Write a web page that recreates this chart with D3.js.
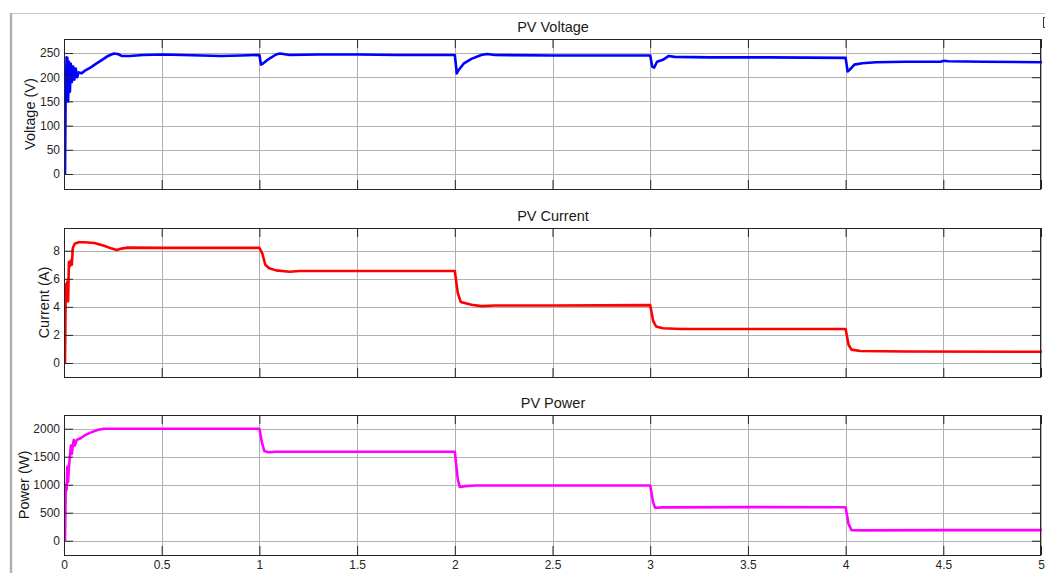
<!DOCTYPE html>
<html>
<head>
<meta charset="utf-8">
<script src="https://cdn.jsdelivr.net/npm/d3@7"></script>
<style>
  html, body { margin: 0; padding: 0; background: #fff; }
  svg { display: block; font-family: "Liberation Sans", Arial, Helvetica, sans-serif; }
</style>
</head>
<body>
<svg id="chart" width="1045" height="573"></svg>
<script>
// ---------- DATA ----------
const xTicks = [0, 0.5, 1, 1.5, 2, 2.5, 3, 3.5, 4, 4.5, 5];
const xTickLabels = ["0", "0.5", "1", "1.5", "2", "2.5", "3", "3.5", "4", "4.5", "5"];

const voltageT = [0, 0.003, 0.008, 0.012, 0.016, 0.020, 0.025, 0.030, 0.035, 0.042, 0.048, 0.055, 0.062, 0.070, 0.085, 0.100, 0.130, 0.160, 0.190, 0.220, 0.250, 0.270, 0.290, 0.330, 0.400, 0.500, 0.600, 0.700, 0.800, 0.900, 0.995,
  1.003, 1.012, 1.040, 1.080, 1.100, 1.150, 1.300, 1.500, 1.700, 1.900, 1.995,
  2.005, 2.015, 2.040, 2.080, 2.130, 2.160, 2.200, 2.500, 2.800, 2.995,
  3.005, 3.015, 3.030, 3.060, 3.090, 3.120, 3.300, 3.600, 3.995,
  4.005, 4.015, 4.040, 4.080, 4.150, 4.300, 4.480, 4.500, 4.520, 4.700, 5.000];
const voltageV = [0, 150, 241, 240, 150, 232, 170, 228, 190, 222, 195, 218, 200, 210, 208, 213, 220, 228, 236, 244, 249, 248, 244, 244, 246, 247, 246, 245, 244, 245, 246,
  226, 228, 237, 247, 249, 246, 247, 247, 246, 246, 246,
  208, 215, 228, 238, 246, 248, 246, 245, 245, 245,
  222, 220, 232, 236, 244, 242, 241, 241, 240,
  212, 215, 226, 229, 231, 232, 232, 234, 233, 232, 231];

const currentT = [0, 0.004, 0.008, 0.012, 0.016, 0.020, 0.025, 0.030, 0.035, 0.040, 0.050, 0.070, 0.100, 0.150, 0.200, 0.240, 0.265, 0.290, 0.320, 0.500, 0.700, 0.995,
  1.010, 1.025, 1.045, 1.080, 1.150, 1.200, 1.500, 1.995,
  2.010, 2.025, 2.080, 2.130, 2.200, 2.500, 2.995,
  3.010, 3.025, 3.060, 3.150, 3.500, 3.995,
  4.010, 4.025, 4.070, 4.300, 5.000];
const currentA = [0, 5.6, 4.4, 5.8, 4.4, 7.2, 6.9, 7.3, 7.0, 8.2, 8.5, 8.6, 8.6, 8.55, 8.35, 8.15, 8.05, 8.15, 8.22, 8.2, 8.2, 8.2,
  7.8, 7.0, 6.75, 6.6, 6.5, 6.55, 6.55, 6.55,
  5.0, 4.35, 4.15, 4.05, 4.1, 4.1, 4.12,
  3.0, 2.6, 2.47, 2.42, 2.42, 2.42,
  1.3, 0.95, 0.85, 0.82, 0.80];

const powerT = [0, 0.004, 0.008, 0.012, 0.016, 0.020, 0.025, 0.030, 0.035, 0.040, 0.045, 0.050, 0.060, 0.080, 0.100, 0.130, 0.170, 0.200, 0.500, 0.995,
  1.008, 1.020, 1.040, 1.080, 1.500, 1.995,
  2.010, 2.020, 2.050, 2.100, 2.500, 2.995,
  3.010, 3.020, 3.060, 3.500, 3.995,
  4.010, 4.025, 4.100, 4.500, 5.000];
const powerW = [0, 1000, 900, 1320, 1050, 1320, 1500, 1700, 1550, 1700, 1800, 1700, 1800, 1830, 1880, 1930, 1980, 2000, 2000, 2000,
  1750, 1600, 1580, 1590, 1590, 1590,
  1100, 960, 975, 985, 985, 985,
  680, 590, 595, 600, 598,
  300, 190, 185, 190, 190];

const voltageTicks = [0, 50, 100, 150, 200, 250];
const currentTicks = [0, 2, 4, 6, 8];
const powerTicks = [0, 500, 1000, 1500, 2000];

const titles = ["PV Voltage", "PV Current", "PV Power"];
const yLabels = ["Voltage (V)", "Current (A)", "Power (W)"];

// ---------- LAYOUT ----------
const svg = d3.select("#chart");
svg.append("rect").attr("width", 1045).attr("height", 573).attr("fill", "#fff");

// window frame remnants
svg.append("line").attr("x1", 10).attr("x2", 1045).attr("y1", 13.5).attr("y2", 13.5)
  .attr("stroke", "#c8c8c8").attr("stroke-width", 1.2);
svg.append("line").attr("x1", 11).attr("x2", 11).attr("y1", 13).attr("y2", 573)
  .attr("stroke", "#b0b0b0").attr("stroke-width", 2.5);
svg.append("path").attr("d", "M1045,17.5 H1043.5 V27.5 H1045")
  .attr("fill", "none").attr("stroke", "#333").attr("stroke-width", 1);

const x = d3.scaleLinear().domain([0, 5]).range([64, 1041]);

const panels = [
  { t: voltageT, v: voltageV, ticks: voltageTicks, domain: [-31, 279], top: 39, bottom: 189, color: "#0000ff", xlabels: false },
  { t: currentT, v: currentA, ticks: currentTicks, domain: [-1.0, 9.62], top: 228, bottom: 377, color: "#ff0000", xlabels: false },
  { t: powerT, v: powerW, ticks: powerTicks, domain: [-255, 2245], top: 415, bottom: 555, color: "#ff00ff", xlabels: true }
];

const axisColor = "#262626";
const gridColor = "#b0b0b0";
const tickLen = 9;

panels.forEach((p, i) => {
  const y = d3.scaleLinear().domain(p.domain).range([p.bottom, p.top]);
  const g = svg.append("g");
  const left = x.range()[0], right = x.range()[1];

  // grid
  g.append("g").selectAll("line").data(xTicks).join("line")
    .attr("x1", d => Math.round(x(d)) + 0.5).attr("x2", d => Math.round(x(d)) + 0.5)
    .attr("y1", p.top).attr("y2", p.bottom)
    .attr("stroke", gridColor).attr("stroke-width", 1);
  g.append("g").selectAll("line").data(p.ticks).join("line")
    .attr("x1", left).attr("x2", right)
    .attr("y1", d => Math.round(y(d)) + 0.5).attr("y2", d => Math.round(y(d)) + 0.5)
    .attr("stroke", gridColor).attr("stroke-width", 1);

  // data line
  const data = p.t.map((t, k) => [t, p.v[k]]);
  const clipId = "clip" + i;
  svg.append("clipPath").attr("id", clipId).append("rect")
    .attr("x", left).attr("y", p.top).attr("width", right - left).attr("height", p.bottom - p.top);
  g.append("path").datum(data)
    .attr("clip-path", `url(#${clipId})`)
    .attr("transform", "translate(1,0)")
    .attr("d", d3.line().x(d => x(d[0])).y(d => y(d[1])))
    .attr("fill", "none").attr("stroke", p.color).attr("stroke-width", 2.6)
    .attr("stroke-linejoin", "round");

  // axes: ticks inward on all four sides, labels left / bottom
  const yAxis = d3.axisLeft(y).tickValues(p.ticks).tickSize(-tickLen).tickPadding(4)
    .tickFormat(d3.format("d"));
  const ya = g.append("g").attr("transform", `translate(${left},0)`).call(yAxis);
  const yAxisR = d3.axisRight(y).tickValues(p.ticks).tickSize(-tickLen).tickFormat("");
  const yr = g.append("g").attr("transform", `translate(${right},0)`).call(yAxisR);

  const xAxis = d3.axisBottom(x).tickValues(xTicks).tickSize(-tickLen).tickPadding(5)
    .tickFormat((d, k) => p.xlabels ? xTickLabels[k] : "");
  const xa = g.append("g").attr("transform", `translate(0,${p.bottom})`).call(xAxis);
  const xAxisT = d3.axisTop(x).tickValues(xTicks).tickSize(-tickLen).tickFormat("");
  const xt = g.append("g").attr("transform", `translate(0,${p.top})`).call(xAxisT);

  [ya, yr, xa, xt].forEach(a => {
    a.select(".domain").remove();
    a.selectAll(".tick line").attr("stroke", axisColor).attr("stroke-width", 1);
    a.selectAll(".tick text").attr("fill", axisColor)
      .style("font-family", "'Liberation Sans', Arial, sans-serif").style("font-size", "12px");
  });

  // box
  g.append("rect").attr("x", left + 0.5).attr("y", p.top + 0.5)
    .attr("width", right - left - 1).attr("height", p.bottom - p.top)
    .attr("fill", "none").attr("stroke", axisColor).attr("stroke-width", 1);

  // title
  g.append("text").attr("x", 553).attr("y", p.top - 7)
    .attr("text-anchor", "middle").attr("fill", "#1a1a1a")
    .style("font-size", "14.5px").text(titles[i]);

  // y label, placed left of the widest tick label
  let minX = left;
  ya.selectAll(".tick text").each(function () {
    const b = this.getBBox();
    const m = this.getCTM();
    minX = Math.min(minX, b.x + m.e);
  });
  const cy = (p.top + p.bottom) / 2;
  g.append("text").attr("transform", `translate(${minX - 10},${cy}) rotate(-90)`)
    .attr("text-anchor", "middle").attr("dy", "0.36em").attr("fill", "#1a1a1a")
    .style("font-size", "14.5px").text(yLabels[i]);
});
</script>
</body>
</html>
